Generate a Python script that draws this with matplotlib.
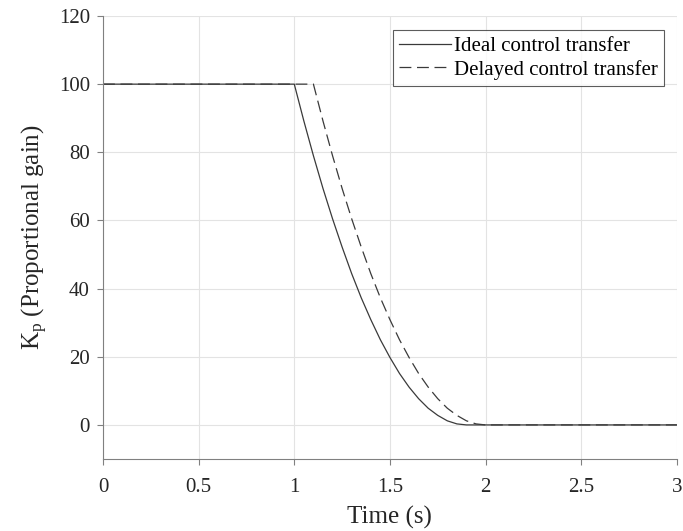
import numpy as np
import matplotlib
matplotlib.use("Agg")
import matplotlib.pyplot as plt
from matplotlib.ticker import FuncFormatter

plt.rcParams['font.family'] = ['Liberation Serif', 'DejaVu Serif']
plt.rcParams['mathtext.fontset'] = 'custom'
plt.rcParams['mathtext.rm'] = 'Liberation Serif'
plt.rcParams['mathtext.it'] = 'Liberation Serif:italic'

# gain (time in s, Kp)
t_ideal = [0.0, 1.0, 1.05, 1.1, 1.15, 1.2, 1.25, 1.3, 1.35, 1.4, 1.45, 1.5,
           1.55, 1.6, 1.65, 1.7, 1.75, 1.8, 1.85, 1.9, 3.0]
kp_ideal = [100, 100, 89.2, 79.0, 69.4, 60.5, 52.2, 44.4, 37.3, 30.9, 25.0, 19.8,
            15.1, 11.1, 7.7, 4.9, 2.8, 1.2, 0.3, 0, 0]

t_delayed = [0.0, 1.1, 1.15, 1.2, 1.25, 1.3, 1.35, 1.4, 1.45, 1.5, 1.55, 1.6,
             1.65, 1.7, 1.75, 1.8, 1.85, 1.9, 1.95, 2.0, 3.0]
kp_delayed = [100, 100, 89.2, 79.0, 69.4, 60.5, 52.2, 44.4, 37.3, 30.9, 25.0, 19.8,
              15.1, 11.1, 7.7, 4.9, 2.8, 1.2, 0.3, 0, 0]

fig = plt.figure(figsize=(6.83, 5.31), dpi=100)
ax = fig.add_axes([0.1508, 0.1356, 0.8402, 0.8343])

ax.plot(t_ideal, kp_ideal, color='#3a3a3a', lw=0.9, label='Ideal control transfer')
ax.plot(t_delayed, kp_delayed, color='#3a3a3a', lw=0.9, dashes=(9.5, 4.5),
        label='Delayed control transfer')

ax.set_xlim(0, 3)
ax.set_ylim(-10, 120)
ax.set_xticks(np.arange(0, 3.01, 0.5))
ax.set_yticks(np.arange(0, 121, 20))
ax.xaxis.set_major_formatter(FuncFormatter(lambda v, p: '%g' % v))
ax.grid(True, color='#e3e3e3', lw=0.8)
ax.set_axisbelow(True)

for s in ['top', 'right']:
    ax.spines[s].set_visible(False)
for s in ['left', 'bottom']:
    ax.spines[s].set_color('#808080')
    ax.spines[s].set_linewidth(0.8)
ax.tick_params(direction='out', length=4, width=0.8, color='#808080',
               labelsize=15, labelcolor='#262626')
ax.tick_params(axis='x', pad=10)
ax.tick_params(axis='y', pad=5.5)

ax.set_xlabel('Time (s)', fontsize=18, color='#262626', labelpad=6)
ax.set_ylabel(r'K$_\mathrm{p}$ (Proportional gain)', fontsize=18, color='#262626', labelpad=6)

leg = ax.legend(loc='upper right', bbox_to_anchor=(0.977, 0.968), fontsize=15,
                frameon=True, fancybox=False, handlelength=2.5, handletextpad=0.1,
                borderpad=0.3, labelspacing=0.18, borderaxespad=0)
leg.get_frame().set_edgecolor('#333333')
leg.get_frame().set_linewidth(0.8)

plt.savefig('out.png', dpi=100)
